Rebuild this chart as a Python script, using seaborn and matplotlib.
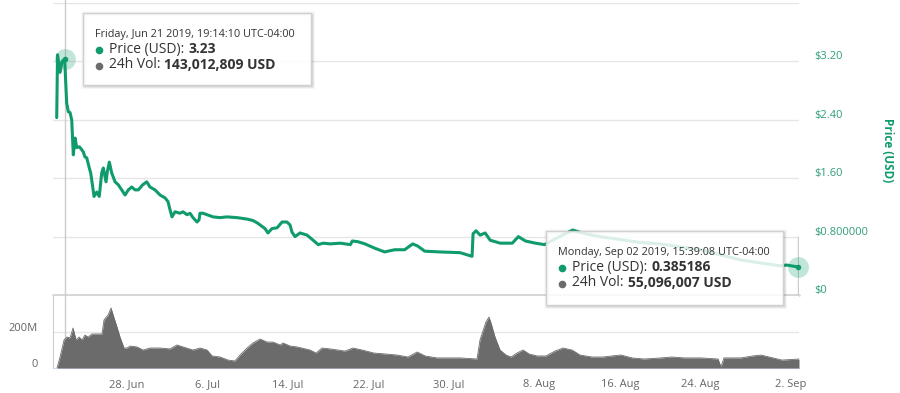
import seaborn as sns
import matplotlib.pyplot as plt
import pandas as pd
from matplotlib.patches import Rectangle
from matplotlib.transforms import ScaledTranslation

# -------------------------------
# Data (days counted from 21 Jun 2019 00:00)
# -------------------------------
start = pd.Timestamp("2019-06-21 00:00")

price_days = [0.01, 0.09, 0.34, 0.54, 0.80, 1.00, 1.16, 1.33, 1.50, 1.66, 1.83, 2.00,
              2.26, 2.50, 2.65, 2.82, 2.99, 3.25, 3.39, 3.59, 3.72, 3.99, 4.24, 4.48,
              4.64, 4.91, 5.04, 5.24, 5.48, 5.81, 6.13, 6.47, 6.80, 7.13, 7.47, 7.79,
              8.12, 8.56, 8.96, 9.28, 9.78, 10.28, 10.78, 11.07, 11.27, 11.47, 11.77,
              12.27, 12.56, 12.96, 13.26, 13.56, 13.96, 14.16, 14.25, 14.55, 14.95,
              15.55, 16.24, 16.94, 17.93, 18.93, 19.52, 19.92, 20.22, 20.71, 21.01,
              21.41, 21.91, 22.41, 22.90, 23.20, 23.40, 23.70, 24.20, 24.90,
              25.50, 26.00, 26.50, 27.20, 28.20, 29.20, 29.40, 29.95, 30.65, 31.65,
              32.60, 33.60, 34.60, 35.40, 35.90, 36.60, 38.10, 40.10, 41.30, 41.40,
              41.70, 42.10, 42.60, 43.10, 44.10, 45.30, 45.90, 46.60, 47.60, 48.50,
              50.00, 51.30, 52.50, 54.00, 56.00, 58.00, 60.00, 62.00, 64.00, 66.00,
              68.00, 69.90, 71.90, 72.60, 73.65]
price_usd = [2.43, 3.29, 3.05, 3.20, 3.23, 2.63, 2.51, 2.50, 2.40, 1.92, 2.15, 2.02,
             2.03, 1.99, 1.96, 1.89, 1.88, 1.74, 1.67, 1.48, 1.35, 1.41, 1.35, 1.67,
             1.74, 1.55, 1.69, 1.82, 1.67, 1.55, 1.51, 1.44, 1.37, 1.44, 1.48, 1.44,
             1.44, 1.51, 1.55, 1.48, 1.44, 1.37, 1.33, 1.28, 1.17, 1.07, 1.14,
             1.12, 1.14, 1.10, 1.12, 1.06, 1.00, 1.03, 1.12, 1.12, 1.10,
             1.07, 1.06, 1.07, 1.06, 1.04, 1.02, 0.99, 0.96, 0.91, 0.85,
             0.91, 0.92, 1.00, 1.00, 0.96, 0.86, 0.80, 0.85, 0.82,
             0.75, 0.69, 0.71, 0.70, 0.71, 0.69, 0.74, 0.73, 0.70, 0.64,
             0.59, 0.62, 0.62, 0.70, 0.67, 0.60, 0.59, 0.58, 0.53, 0.84,
             0.88, 0.82, 0.85, 0.75, 0.71, 0.71, 0.80, 0.74, 0.71, 0.69,
             0.80, 0.89, 0.84, 0.80, 0.76, 0.72, 0.70, 0.66, 0.62, 0.55,
             0.48, 0.44, 0.40, 0.41, 0.385186]

vol_days = [0.04, 0.34, 0.74, 1.03, 1.33, 1.63, 1.93, 2.23, 2.52, 2.82, 3.12, 3.52,
            4.31, 4.51, 4.71, 5.11, 5.41, 5.71, 6.00, 6.30, 6.70, 7.00, 7.30, 7.99,
            8.59, 9.28, 10.28, 11.27, 11.97, 12.56, 13.56, 14.25, 14.95, 15.45, 16.24,
            17.04, 17.73, 18.23, 18.93, 19.52, 20.22, 20.92, 21.51, 22.21, 22.51,
            23.20, 23.90, 25.19, 25.79, 26.38, 27.18, 28.67, 29.46, 30.36, 31.55,
            32.65, 33.84, 34.93, 35.83, 36.62, 37.81, 38.91, 40.10, 41.79, 42.09,
            42.68, 42.98, 43.18, 43.58, 44.08, 44.67, 45.17, 45.77, 46.36, 46.96,
            47.75, 48.65, 49.54, 50.34, 51.23, 52.03, 53.22, 54.31, 55.21, 56.10,
            57.20, 58.39, 60.08, 61.17, 62.37, 64.06, 65.75, 66.04, 66.34, 68.03,
            69.22, 70.02, 71.21, 72.11, 73.80]
vol_musd = [0, 61, 156, 172, 167, 222, 156, 172, 156, 183, 172, 189,
            189, 189, 267, 294, 333, 278, 228, 172, 111, 111, 122, 117,
            100, 111, 111, 106, 128, 117, 100, 111, 100, 67, 61,
            44, 39, 72, 111, 139, 161, 144, 144, 128, 139,
            122, 117, 100, 83, 111, 106, 94, 111, 100, 83,
            78, 72, 61, 89, 67, 56, 56, 56, 50, 156,
            256, 283, 250, 172, 100, 72, 61, 83, 100, 78,
            67, 67, 94, 111, 100, 72, 61, 61, 67, 72,
            56, 50, 56, 61, 56, 56, 50, 6, 56, 56,
            67, 72, 56, 44, 50]

tick_dates = ["2019-06-28", "2019-07-06", "2019-07-14", "2019-07-22", "2019-07-30",
              "2019-08-08", "2019-08-16", "2019-08-24", "2019-09-02"]
tick_labels = ["28. Jun", "6. Jul", "14. Jul", "22. Jul", "30. Jul",
               "8. Aug", "16. Aug", "24. Aug", "2. Sep"]
price_ticks = [0, 0.8, 1.6, 2.4, 3.2, 4.0]
price_tick_labels = ["$0", "$0.800000", "$1.60", "$2.40", "$3.20", ""]
vol_ticks = [0, 200]
vol_tick_labels = ["0", "200M"]

tip1_time = "2019-06-21 19:14:10"
tip1_price = 3.23
tip1_lines = ("Friday, Jun 21 2019, 19:14:10 UTC-04:00", "3.23", "143,012,809 USD")
tip2_time = "2019-09-02 15:39:08"
tip2_price = 0.385186
tip2_lines = ("Monday, Sep 02 2019, 15:39:08 UTC-04:00", "0.385186", "55,096,007 USD")

price_df = pd.DataFrame({"date": start + pd.to_timedelta(price_days, unit="D"),
                         "price": price_usd})
vol_df = pd.DataFrame({"date": start + pd.to_timedelta(vol_days, unit="D"),
                       "vol": vol_musd})

GREEN = "#0f9b6e"
LABEL_GREEN = "#2f9d7a"
GRID = "#e6e6e6"

# -------------------------------
# Layout (pixel boxes of the 900x393 picture)
# -------------------------------
sns.set_style("white")
plt.rcParams["font.family"] = ["Open Sans", "DejaVu Sans"]

W, H = 900, 393
fig = plt.figure(figsize=(W / 100, H / 100), dpi=100)


def box(x0, y0, x1, y1):
    return [x0 / W, 1 - y1 / H, (x1 - x0) / W, (y1 - y0) / H]


ax_p = fig.add_axes(box(53, 3, 799, 295))
ax_v = fig.add_axes(box(53, 296, 799, 368), sharex=ax_p)

# price panel
sns.lineplot(data=price_df, x="date", y="price", ax=ax_p, color=GREEN, linewidth=2.2, zorder=3)
ax_p.set_ylim(0, 4.0)
ax_p.set_yticks(price_ticks, price_tick_labels)
ax_p.yaxis.tick_right()
ax_p.tick_params(axis="y", length=0, pad=11, labelsize=8, labelcolor=LABEL_GREEN)
for lab in ax_p.get_yticklabels():
    lab.set_transform(lab.get_transform() + ScaledTranslation(0, 6 / 100, fig.dpi_scale_trans))
ax_p.grid(axis="y", color=GRID, linewidth=1)
ax_p.grid(axis="x", visible=False)
ax_p.axhline(0, color="#d6d6d6", linewidth=2, clip_on=False, zorder=1)
ax_p.tick_params(axis="x", bottom=False, labelbottom=False)
ax_p.set_xlabel("")
ax_p.set_ylabel("")
for s in ax_p.spines.values():
    s.set_visible(False)

fig.text(888 / W, 1 - 150 / H, "Price (USD)", rotation=270, ha="center", va="center",
         fontsize=8.5, fontweight="bold", color=GREEN)

# volume panel
sns.lineplot(data=vol_df, x="date", y="vol", ax=ax_v, color="#6b6b6b", linewidth=0.6, zorder=3)
ax_v.fill_between(vol_df["date"], vol_df["vol"], color="#6b6b6b", linewidth=0, zorder=3)
ax_v.set_ylim(0, 400)
ax_v.set_yticks(vol_ticks, vol_tick_labels)
ax_v.tick_params(axis="y", length=0, pad=11, labelsize=8, labelcolor="#666666")
for lab in ax_v.get_yticklabels():
    lab.set_transform(lab.get_transform() + ScaledTranslation(0, 5 / 100, fig.dpi_scale_trans))
ax_v.grid(axis="y", color=GRID, linewidth=1)
ax_v.grid(axis="x", visible=False)
ax_v.set_xticks(pd.to_datetime(tick_dates), tick_labels)
ax_v.tick_params(axis="x", length=5, width=1, color="#ccd6eb", labelsize=8,
                 labelcolor="#666666", pad=3)
ax_v.set_xlabel("")
ax_v.set_ylabel("")
ax_v.spines["top"].set_visible(False)
ax_v.spines["right"].set_visible(False)
ax_v.spines["left"].set_color("#cccccc")
ax_v.spines["bottom"].set_color("#ccd6eb")

ax_p.set_xlim(start - pd.Timedelta(days=0.36), start + pd.Timedelta(days=73.8))

# crosshairs and hover markers
t1 = pd.Timestamp(tip1_time)
t2 = pd.Timestamp(tip2_time)
ax_p.axvline(t1, ymin=0, ymax=1 + 3 / 292, color="#cccccc", linewidth=1, clip_on=False, zorder=2)
ax_v.axvline(t1, color="#cccccc", linewidth=1, zorder=2)
ax_p.axvline(t2, ymin=0, ymax=0.2, color="#cccccc", linewidth=1, zorder=2)
for t, p in [(t1, tip1_price), (t2, tip2_price)]:
    ax_p.plot([t], [p], "o", ms=15, color=GREEN, alpha=0.25, mec="none", clip_on=False, zorder=4)
    ax_p.plot([t], [p], "o", ms=4, color=GREEN, mec="none", clip_on=False, zorder=5)

# -------------------------------
# Tooltips (overlay in pixel space)
# -------------------------------
ov = fig.add_axes([0, 0, 1, 1], zorder=10)
ov.set_xlim(0, W)
ov.set_ylim(H, 0)
ov.axis("off")
ov.patch.set_alpha(0)
renderer = fig.canvas.get_renderer()


def tooltip(x0, y0, x1, y1, lines):
    date_text, price_val, vol_val = lines
    for off, a, lw in [(1, 0.03, 4), (1, 0.05, 2.5), (1, 0.08, 1)]:
        ov.add_patch(Rectangle((x0 + off, y0 + off), x1 - x0, y1 - y0, fc="none",
                               ec="black", alpha=a, lw=lw))
    ov.add_patch(Rectangle((x0, y0), x1 - x0, y1 - y0, fc=(1, 1, 1, 0.85), ec="#d0d0d0", lw=1))
    tx = x0 + 12
    ov.text(tx, y0 + 21, date_text, fontsize=7.8, color="#333333", va="center")
    rows = [(y0 + 36, GREEN, "Price (USD):", price_val),
            (y0 + 52, "#6b6b6b", "24h Vol:", vol_val)]
    for y, c, lab, val in rows:
        ov.plot([tx + 4], [y + 0.5], "o", ms=5.5, color=c, mec="none")
        t = ov.text(tx + 14, y, lab, fontsize=10, color="#333333", va="center")
        wpx = t.get_window_extent(renderer).width
        ov.text(tx + 14 + wpx + 4, y, val, fontsize=10, fontweight="bold", color="#333333",
                va="center")


tooltip(83, 13, 311, 85, tip1_lines)
tooltip(546, 231, 783, 305, tip2_lines)

plt.savefig("out.png", dpi=100)
plt.close()
